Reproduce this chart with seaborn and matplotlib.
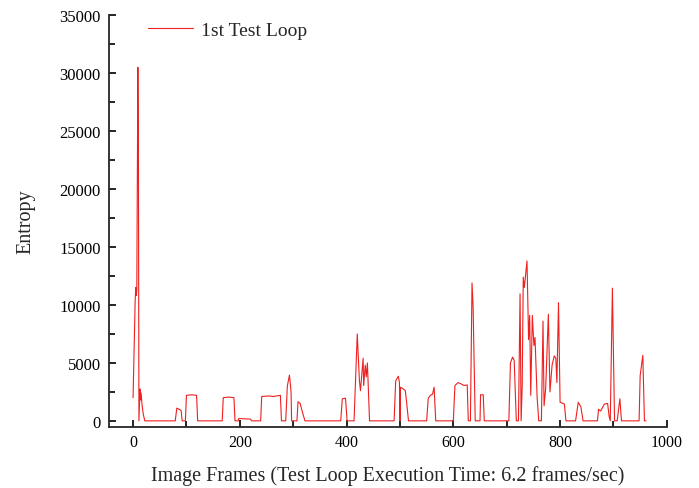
import matplotlib
matplotlib.use("Agg")
import matplotlib.pyplot as plt
import seaborn as sns
from matplotlib.ticker import MultipleLocator

# key points (frame, entropy)
frames = [0, 4, 5, 6, 7, 9, 10, 11, 13, 14, 15, 17, 19, 22,
          79, 82, 86, 90, 92,
          98, 100, 110, 119, 121,
          167, 169, 180, 189, 191,
          197, 198, 220, 222,
          239, 241, 255, 262, 276, 278,
          286, 289, 293, 296, 297,
          307, 309, 313, 317, 322,
          389, 392, 398, 401,
          414, 420, 424, 426, 431, 432, 435, 437, 439, 443,
          489, 492, 497, 499, 500, 501, 505, 510, 512, 516,
          550, 553, 557, 561, 564, 567,
          600, 603, 609, 614, 620, 626, 628,
          632, 635, 637, 641,
          650, 651, 656, 658,
          704, 707, 711, 714, 718,
          722, 725, 727, 729, 731, 733, 738, 741, 743, 745, 748, 751, 753, 757, 760,
          765, 768, 770, 773, 778, 781, 785, 789, 792, 794, 797, 800, 805, 808, 811,
          829, 834, 839, 843,
          870, 872, 876, 883, 889, 892, 894, 898, 902,
          907, 912, 915,
          948, 950, 955, 958, 961]
entropy = [2000, 10500, 11500, 10800, 11300, 30500, 24000, 0, 2750, 1800, 2400, 1300, 600, 0,
           0, 1100, 1000, 900, 0,
           0, 2200, 2250, 2200, 0,
           0, 2000, 2050, 2000, 0,
           0, 200, 150, 0,
           0, 2100, 2150, 2100, 2200, 0,
           0, 3000, 3950, 2500, 0,
           0, 1650, 1500, 800, 0,
           0, 1900, 1950, 0,
           0, 7500, 3500, 2600, 5400, 3050, 4800, 3800, 5000, 0,
           0, 3450, 3850, 3300, 0, 2900, 2800, 2600, 1800, 0,
           0, 1950, 2200, 2300, 2900, 0,
           0, 3050, 3300, 3200, 3050, 3100, 0,
           0, 11900, 9900, 0,
           0, 2250, 2250, 0,
           0, 5000, 5500, 5200, 0,
           0, 10950, 0, 3000, 12400, 11500, 13800, 7000, 9100, 2200, 9100, 6500, 7200, 2000, 0,
           0, 8600, 1300, 2800, 9200, 2500, 4800, 5600, 5400, 3300, 10200, 1600, 1500, 1450, 0,
           0, 1600, 1200, 0,
           0, 1000, 850, 1450, 1500, 350, 0, 11450, 0,
           0, 1900, 0,
           0, 3900, 5650, 0, 0]

sns.set_style("ticks")
plt.rcParams['font.family'] = ['Liberation Serif', 'DejaVu Serif']

fig = plt.figure(figsize=(6.99, 4.89), dpi=100)
ax = fig.add_axes([0.156, 0.125, 0.798, 0.842])

sns.lineplot(x=frames, y=entropy, ax=ax, color='#ee2020', linewidth=0.8,
             label='1st Test Loop')

ax.set_xlim(-45, 1000)
ax.set_ylim(-520, 35000)
ax.xaxis.set_major_locator(MultipleLocator(200))
ax.xaxis.set_minor_locator(MultipleLocator(100))
ax.yaxis.set_major_locator(MultipleLocator(5000))
ax.yaxis.set_minor_locator(MultipleLocator(2500))
ax.tick_params(which='both', direction='in', width=1.2, colors='black')
ax.tick_params(axis='x', labelsize=11.5, pad=5)
ax.tick_params(axis='y', labelsize=12, pad=6)
ax.tick_params(which='major', length=5)
ax.tick_params(which='minor', length=4)
for s in ['left', 'bottom']:
    ax.spines[s].set_linewidth(1.3)
sns.despine(ax=ax)

ax.set_xlabel('Image Frames (Test Loop Execution Time: 6.2 frames/sec)', fontsize=14.5, labelpad=11)
ax.set_ylabel('Entropy', fontsize=14.5, labelpad=17)

ax.legend(loc='upper left', bbox_to_anchor=(0.07, 0.985), frameon=False, fontsize=14,
          handlelength=2.3, borderpad=0, borderaxespad=0, handletextpad=0.4)

fig.savefig('out.png', dpi=100)
